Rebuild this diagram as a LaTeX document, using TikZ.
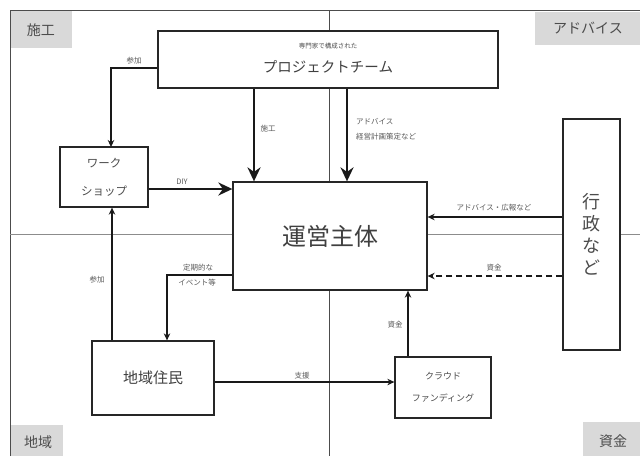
\documentclass[tikz,border=0pt]{standalone}
\usepackage{fontspec}
\setmainfont{Noto Sans CJK JP}
\usetikzlibrary{arrows.meta,calc}
\tikzset{
  box/.style={draw=black!85, line width=1.3pt, fill=white, inner sep=0pt, align=center},
  lab/.style={font=\fontsize{7.5}{9}\selectfont, text=black!65, inner sep=0pt},
  corner/.style={text=black!70, font=\fontsize{14}{16}\selectfont, inner sep=0pt},
  axis/.style={draw=black!70, line width=0.7pt},
  thinarr/.style={draw=black!90, line width=1.1pt, -{Stealth[length=7pt,width=6.5pt]}},
  thickarr/.style={draw=black!90, line width=2.4pt, -{Stealth[length=14pt,width=13pt]}},
}
\begin{document}
\begin{tikzpicture}[x=1pt,y=-1pt]
\useasboundingbox (0,0) rectangle (640,456);
\fill[white] (0,0) rectangle (640,456);
% frame and axes
\draw[axis] (10,456) -- (10,10) -- (640,10);
\draw[axis] (329,10) -- (329,456);
\draw[draw=black!45, line width=0.8pt] (10,234) -- (640,234);
% corner labels
\fill[black!15] (11,11) rectangle (72,48);
\node[corner] (cA) at (41,30) {施工};
\fill[black!15] (535,12) rectangle (640,45);
\node[corner] (cB) at (588,28) {アドバイス};
\fill[black!15] (11,425) rectangle (63,456);
\node[corner] (cC) at (38,442) {地域};
\fill[black!15] (583,422) rectangle (640,456);
\node[corner] (cD) at (613,441) {資金};
% boxes
\node[box, minimum width=340pt, minimum height=57pt] (pt) at (328,59.5) {};
\node[font=\fontsize{6.5}{7}\selectfont, text=black!70] (ptA) at (328,46) {専門家で構成された};
\node[font=\fontsize{14.5}{16}\selectfont, text=black!75] (ptB) at (328,67) {プロジェクトチーム};
\node[box, minimum width=88pt, minimum height=60pt, font=\fontsize{11.5}{28}\selectfont, text=black!70] (ws) at (104,177) {ワーク\\ショップ};
\node[box, minimum width=194pt, minimum height=108pt, font=\fontsize{24}{28}\selectfont, text=black!75] (main) at (330,236) {運営主体};
\node[box, minimum width=57pt, minimum height=231pt, font=\fontsize{18}{22}\selectfont, text=black!70] (gov) at (591.5,234.5) {行\\政\\な\\ど};
\node[box, minimum width=122pt, minimum height=74pt, font=\fontsize{15}{18}\selectfont, text=black!75] (res) at (153,378) {地域住民};
\node[box, minimum width=96pt, minimum height=61pt, font=\fontsize{9}{22}\selectfont, text=black!70] (cf) at (443,387.5) {クラウド\\ファンディング};
% named points
\coordinate (p1) at ($(pt.west)+(0,8.5)$);
\coordinate (wsIn) at (111,147);
% connectors
\draw[thinarr] (p1) -| (wsIn);
\node[lab] (l1) at (134,61) {参加};
\draw[thickarr] (pt.south -| 254,0) -- (main.north -| 254,0);
\node[lab] (l2) at (268,129) {施工};
\draw[thickarr] (pt.south -| 347,0) -- (main.north -| 347,0);
\node[lab, anchor=west] (l3) at (356,122) {アドバイス};
\node[lab, anchor=west] (l4) at (356,137) {経営計画策定など};
\draw[thickarr] (ws.east |- 0,189) -- (main.west |- 0,189);
\node[lab] (l5) at (182,182) {DIY};
\draw[thinarr] (gov.west |- 0,217) -- (main.east |- 0,217);
\node[lab] (l6) at (494,208) {アドバイス・広報など};
\draw[thinarr, dashed, dash pattern=on 6pt off 4pt] (gov.west |- 0,276) -- (main.east |- 0,276);
\node[lab] (l7) at (494,268) {資金};
\draw[thinarr] (main.west |- 0,275) -| (res.north -| 167,0);
\node[lab] (l8) at (198,268) {定期的な};
\node[lab] (l9) at (197,283) {イベント等};
\draw[thinarr] (res.north -| 112,0) -- (ws.south -| 112,0);
\node[lab] (l10) at (97,280) {参加};
\draw[thinarr] (res.east |- 0,382) -- (cf.west |- 0,382);
\node[lab] (l11) at (302,376) {支援};
\draw[thinarr] (cf.north -| 408,0) -- (main.south -| 408,0);
\node[lab] (l12) at (395,325) {資金};
\end{tikzpicture}
\end{document}
